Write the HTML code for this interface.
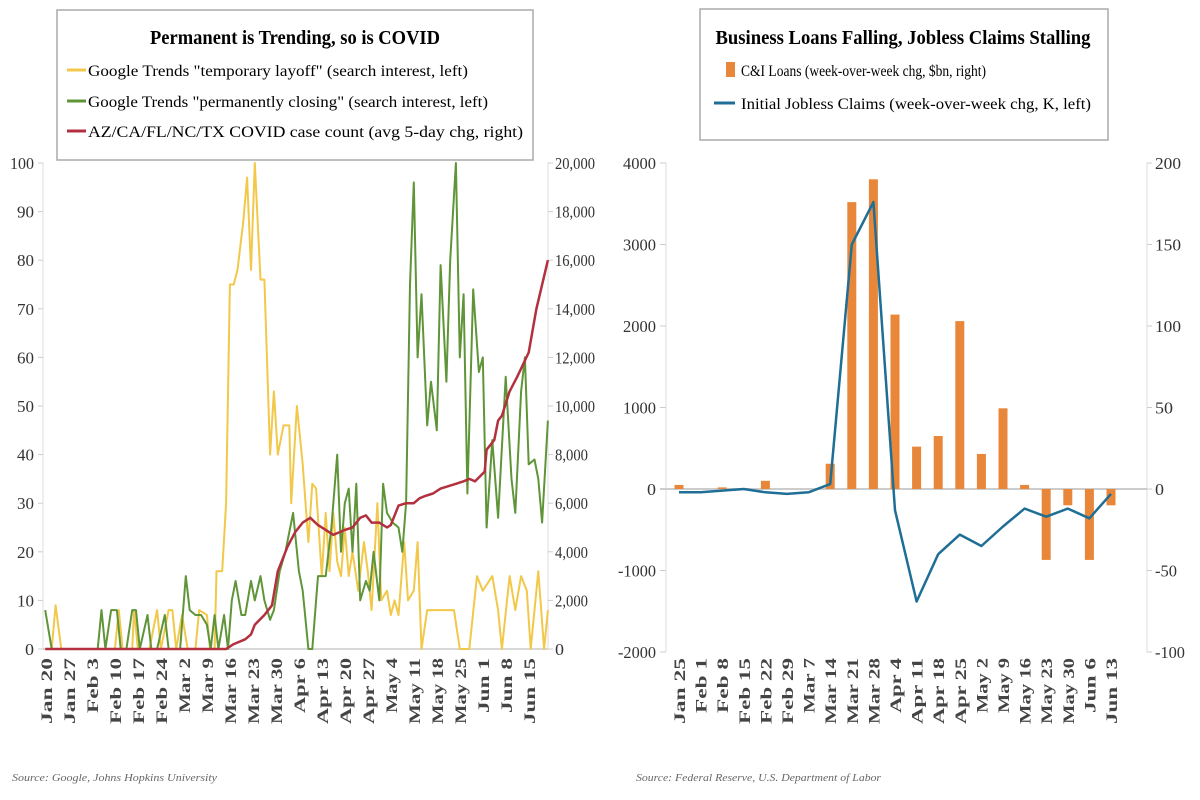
<!DOCTYPE html>
<html><head><meta charset="utf-8">
<style>
html,body{margin:0;padding:0;background:#fff;}
svg{display:block;font-family:"Liberation Serif",serif;}
</style></head>
<body>
<svg id="s" width="1200" height="800" viewBox="0 0 1200 800" xmlns="http://www.w3.org/2000/svg">
<rect width="1200" height="800" fill="#fff"/>
<rect x="57" y="10" width="476" height="150" fill="#fff" stroke="#aaa" stroke-width="1.5"/>
<text x="295" y="44" text-anchor="middle" font-size="20" font-weight="bold" textLength="290" lengthAdjust="spacingAndGlyphs">Permanent is Trending, so is COVID</text>
<line x1="67" y1="70" x2="86" y2="70" stroke="#f2c84a" stroke-width="3"/>
<text x="88" y="76" font-size="16" textLength="380" lengthAdjust="spacingAndGlyphs">Google Trends "temporary layoff" (search interest, left)</text>
<line x1="67" y1="101" x2="86" y2="101" stroke="#5f9538" stroke-width="3"/>
<text x="88" y="107" font-size="16" textLength="400" lengthAdjust="spacingAndGlyphs">Google Trends "permanently closing" (search interest, left)</text>
<line x1="67" y1="131" x2="86" y2="131" stroke="#b3303f" stroke-width="3"/>
<text x="88" y="137" font-size="16" textLength="435" lengthAdjust="spacingAndGlyphs">AZ/CA/FL/NC/TX COVID case count (avg 5-day chg, right)</text>
<rect x="700" y="9" width="408" height="131" fill="#fff" stroke="#aaa" stroke-width="1.5"/>
<text x="903" y="44" text-anchor="middle" font-size="20" font-weight="bold" textLength="375" lengthAdjust="spacingAndGlyphs">Business Loans Falling, Jobless Claims Stalling</text>
<rect x="726" y="62" width="9" height="15" fill="#e8873a"/>
<text x="741" y="76" font-size="16" textLength="245" lengthAdjust="spacingAndGlyphs">C&amp;I Loans (week-over-week chg, $bn, right)</text>
<line x1="714" y1="103" x2="735" y2="103" stroke="#1f6e96" stroke-width="3"/>
<text x="741" y="109" font-size="16" textLength="350" lengthAdjust="spacingAndGlyphs">Initial Jobless Claims (week-over-week chg, K, left)</text>
<g id="g"></g>
<text x="12" y="781" font-size="11" font-style="italic" fill="#666" textLength="205" lengthAdjust="spacingAndGlyphs">Source: Google, Johns Hopkins University</text>
<text x="636" y="781" font-size="11" font-style="italic" fill="#666" textLength="245" lengthAdjust="spacingAndGlyphs">Source: Federal Reserve, U.S. Department of Labor</text>
</svg>
<script>
var g=document.getElementById('g'),h='';
function ln(x1,y1,x2,y2,c,w){h+='<line x1="'+x1+'" y1="'+y1+'" x2="'+x2+'" y2="'+y2+'" stroke="'+c+'" stroke-width="'+w+'"/>';}
function tx(x,y,t,a,fs,extra){h+='<text x="'+x+'" y="'+y+'" text-anchor="'+a+'" font-size="'+fs+'" fill="#333" '+(extra||'')+'>'+t+'</text>';}
function vl(x,t){var len=t.length*11;h+='<text transform="translate('+(x+6)+',658) rotate(-90)" text-anchor="end" font-size="16" font-weight="bold" fill="#444" textLength="'+len+'" lengthAdjust="spacingAndGlyphs">'+t+'</text>';}
var L0=649,LT=163;
ln(43,LT,43,L0,'#ddd',1);ln(548,LT,548,L0,'#ddd',1);ln(43,L0,548,L0,'#ccc',1.5);
for(var i=0;i<=10;i++){var y=L0-i*48.6;tx(34,y+6,i*10,'end',17,'textLength="'+(i==10?24:(i==0?9:17))+'" lengthAdjust="spacingAndGlyphs"');
 var v=i*2000;var s=v==0?'0':v.toLocaleString('en-US');tx(555,y+6,s,'start',17,'textLength="'+(v==0?9:(v<10000?33:40))+'" lengthAdjust="spacingAndGlyphs"');
 ln(38,y,43,y,'#ccc',1);ln(548,y,553,y,'#ccc',1);}
var wl2=['Jan 20','Jan 27','Feb 3','Feb 10','Feb 17','Feb 24','Mar 2','Mar 9','Mar 16','Mar 23','Mar 30','Apr 6','Apr 13','Apr 20','Apr 27','May 4','May 11','May 18','May 25','Jun 1','Jun 8','Jun 15'];
var n=wl2.length;var step=(529-46)/(n-1);
for(var i=0;i<n;i++){vl(46+i*step,wl2[i]);}
function P(pts,col,w){var d='';pts.forEach(function(p,k){var x=p[0]/2.61,y=L0-p[1]*4.86;d+=(k?'L':'M')+x.toFixed(1)+' '+y.toFixed(1);});h+='<path d="'+d+'" fill="none" stroke="'+col+'" stroke-width="'+w+'" stroke-linejoin="round"/>';}
var yel=[[118,0],[135,0],[145,9],[160,0],[300,0],[310,8],[320,0],[345,0],[350,8],[360,0],[390,0],[410,8],[420,0],[440,8],[450,8],[460,0],[475,7],[490,0],[510,0],[520,8],[540,7],[548,0],[560,0],[565,16],[580,16],[590,30],[600,75],[610,75],[620,78],[635,88],[645,97],[655,78],[665,100],[680,76],[690,76],[705,40],[715,53],[725,40],[740,46],[755,46],[760,30],[775,50],[790,38],[805,22],[815,34],[825,33],[840,15],[850,28],[860,16],[870,28],[880,18],[890,15],[900,25],[910,15],[920,20],[935,12],[950,22],[960,16],[970,8],[985,30],[995,10],[1010,12],[1020,7],[1030,10],[1040,7],[1055,22],[1065,10],[1080,12],[1090,22],[1100,0],[1115,8],[1185,8],[1200,0],[1225,0],[1245,15],[1260,12],[1285,15],[1300,8],[1310,0],[1330,15],[1345,8],[1360,15],[1375,12],[1385,0],[1405,16],[1420,0],[1430,8]];
var grn=[[118,8],[135,0],[255,0],[265,8],[275,0],[290,8],[305,8],[315,0],[330,0],[345,8],[355,8],[365,0],[385,7],[395,0],[410,0],[430,7],[440,0],[470,0],[485,15],[495,8],[510,7],[525,7],[540,5],[550,0],[560,7],[570,0],[585,7],[595,0],[605,10],[615,14],[630,7],[640,7],[655,14],[665,10],[680,15],[690,10],[705,6],[715,8],[730,16],[745,20],[765,28],[780,16],[790,12],[805,0],[815,0],[830,15],[840,15],[850,15],[865,25],[880,40],[890,20],[900,30],[910,33],[920,20],[930,34],[940,10],[955,14],[965,12],[975,20],[990,10],[1000,34],[1010,28],[1025,26],[1040,25],[1050,20],[1060,30],[1070,75],[1080,96],[1090,60],[1100,73],[1115,46],[1125,55],[1140,45],[1150,79],[1165,55],[1175,80],[1190,100],[1200,60],[1210,73],[1220,32],[1235,74],[1250,57],[1260,60],[1270,25],[1285,43],[1300,27],[1320,56],[1335,35],[1345,28],[1360,53],[1370,60],[1380,38],[1395,39],[1405,35],[1415,26],[1430,47]];
var red=[[118,0],[590,0],[610,1],[640,2],[655,3],[665,5],[690,7],[710,9],[725,16],[750,21],[770,24],[790,26],[810,27],[830,25.5],[850,24.5],[870,23.5],[885,24],[900,24.5],[920,25],[940,27],[955,27.5],[970,26],[990,26],[1010,25],[1020,25.5],[1040,29.5],[1060,30],[1080,30],[1095,31],[1110,31.5],[1130,32],[1150,33],[1170,33.5],[1190,34],[1210,34.5],[1225,35],[1240,34.5],[1265,36.5],[1270,41],[1290,43],[1300,47],[1310,48],[1330,53],[1350,56],[1380,61],[1400,70],[1430,80]];
P(yel,'#f2c84a',2);P(grn,'#5f9538',2);P(red,'#b3303f',2.5);
var R0=489;
ln(666,163,666,652,'#ddd',1);ln(1147,163,1147,652,'#ddd',1);ln(660,R0,1147,R0,'#ccc',2);
for(var i=0;i<=6;i++){var v=4000-i*1000,y=163+i*81.5;tx(656,y+6,v,'end',17,'textLength="'+(v==0?9:(v<0?38:33))+'" lengthAdjust="spacingAndGlyphs"');ln(660,y,666,y,'#ccc',1);
 var k=200-i*50;tx(1155,y+6,k,'start',17,'textLength="'+(k==0?9:(k<0?(k==-100?30:22):(k>=100?26:18)))+'" lengthAdjust="spacingAndGlyphs"');ln(1147,y,1152,y,'#ccc',1);}
var wr=['Jan 25','Feb 1','Feb 8','Feb 15','Feb 22','Feb 29','Mar 7','Mar 14','Mar 21','Mar 28','Apr 4','Apr 11','Apr 18','Apr 25','May 2','May 9','May 16','May 23','May 30','Jun 6','Jun 13'];
var bars=[50,0,20,0,100,0,0,310,3520,3800,2140,520,650,2060,430,990,50,-870,-200,-870,-200];
var jl=[-2,-2,-1,0,-2,-3,-2,3,150,176,-13,-69,-40,-28,-35,-23,-12,-17,-12,-18,-3];
var rs=(1111-679)/20,d='';
for(var i=0;i<21;i++){var x=679+i*rs;var v=bars[i];var y=R0-v*0.0815;
 if(v!=0)h+='<rect x="'+(x-4.5)+'" y="'+Math.min(y,R0)+'" width="9" height="'+Math.abs(R0-y)+'" fill="#e8873a"/>';
 d+=(i?'L':'M')+x.toFixed(1)+' '+(R0-jl[i]*1.63).toFixed(1);
 vl(x,wr[i]);}
h+='<path d="'+d+'" fill="none" stroke="#1f6e96" stroke-width="2.5" stroke-linejoin="round"/>';
g.innerHTML=h;
</script>
</body></html>
